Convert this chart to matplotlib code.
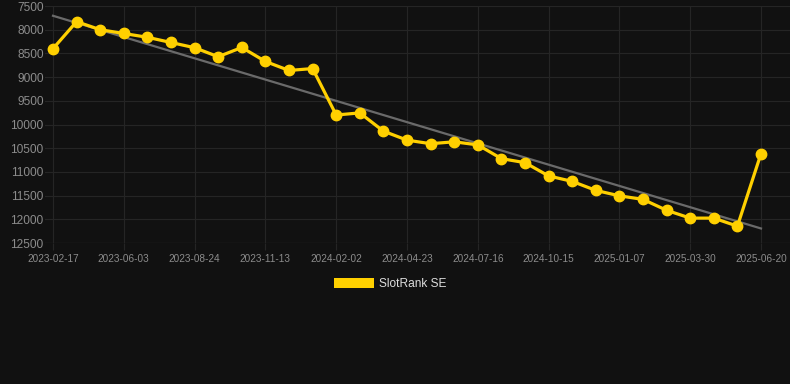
import numpy as np
import matplotlib
matplotlib.use("Agg")
import matplotlib.pyplot as plt
from matplotlib.patches import Rectangle

# données
dates = ["2023-02-17", "2023-03-14", "2023-04-08", "2023-06-03", "2023-06-25",
         "2023-07-20", "2023-08-24", "2023-09-15", "2023-10-10", "2023-11-13",
         "2023-12-05", "2024-01-01", "2024-02-02", "2024-02-25", "2024-03-25",
         "2024-04-23", "2024-05-20", "2024-06-18", "2024-07-16", "2024-08-12",
         "2024-09-15", "2024-10-15", "2024-11-10", "2024-12-08", "2025-01-07",
         "2025-02-03", "2025-03-01", "2025-03-30", "2025-04-25", "2025-05-22",
         "2025-06-20"]
rang = [8400, 7830, 8000, 8080, 8160, 8270, 8380, 8570, 8375, 8670,
        8860, 8820, 9800, 9755, 10140, 10330, 10405, 10365, 10430, 10720,
        10805, 11085, 11200, 11390, 11505, 11580, 11810, 11975, 11975, 12145,
        10615]
yticks = [7500, 8000, 8500, 9000, 9500, 10000, 10500, 11000, 11500, 12000, 12500]

fond = "#111111"
jaune = "#FFD000"
grille = "#252525"

fig = plt.figure(figsize=(7.9, 3.84), dpi=100, facecolor=fond)
W, H = 790, 384
ax = fig.add_axes([45 / W, (H - 243) / H, (W - 45) / W, (243 - 6) / H])
ax.set_facecolor(fond)

x = np.arange(len(rang))
a, b = np.polyfit(x, rang, 1)
ax.plot(x, a * x + b, color="#6a6a6a", lw=1.6, zorder=2)
ax.plot(x, rang, color=jaune, lw=2.3, marker="o", ms=7.5, zorder=3)

ax.set_xlim(-8 / 23.6, 30 + 29 / 23.6)
ax.set_ylim(12500, 7500)
ax.set_yticks(yticks)
ax.set_yticklabels([str(v) for v in yticks])
pos = x[::3]
ax.set_xticks(pos)
ax.set_xticklabels([dates[i] for i in pos])

for s in ax.spines.values():
    s.set_visible(False)
ax.grid(True, color=grille, lw=0.8, zorder=0)
ax.axhline(12500, color="#2e2e2e", lw=0.9, zorder=1)
ax.tick_params(axis="y", length=0, pad=1, labelsize=8.6, labelcolor="#8c8c8c")
ax.tick_params(axis="x", length=5, color=grille, pad=3, labelsize=7.2,
               labelcolor="#8c8c8c")
for t in ax.get_xticklabels() + ax.get_yticklabels():
    t.set_fontfamily(["Liberation Sans", "DejaVu Sans"])

poignee = Rectangle((0, 0), 1, 1, facecolor=jaune, edgecolor="none")
fig.legend([poignee], ["SlotRank SE"], loc="center",
           bbox_to_anchor=(0.494, 1 - 284 / H), frameon=False,
           handlelength=3.3, handleheight=1.0, handletextpad=0.45,
           prop={"family": ["Liberation Sans", "DejaVu Sans"], "size": 8.6},
           labelcolor="#dddddd")

fig.savefig("out.png", dpi=100, facecolor=fond)
